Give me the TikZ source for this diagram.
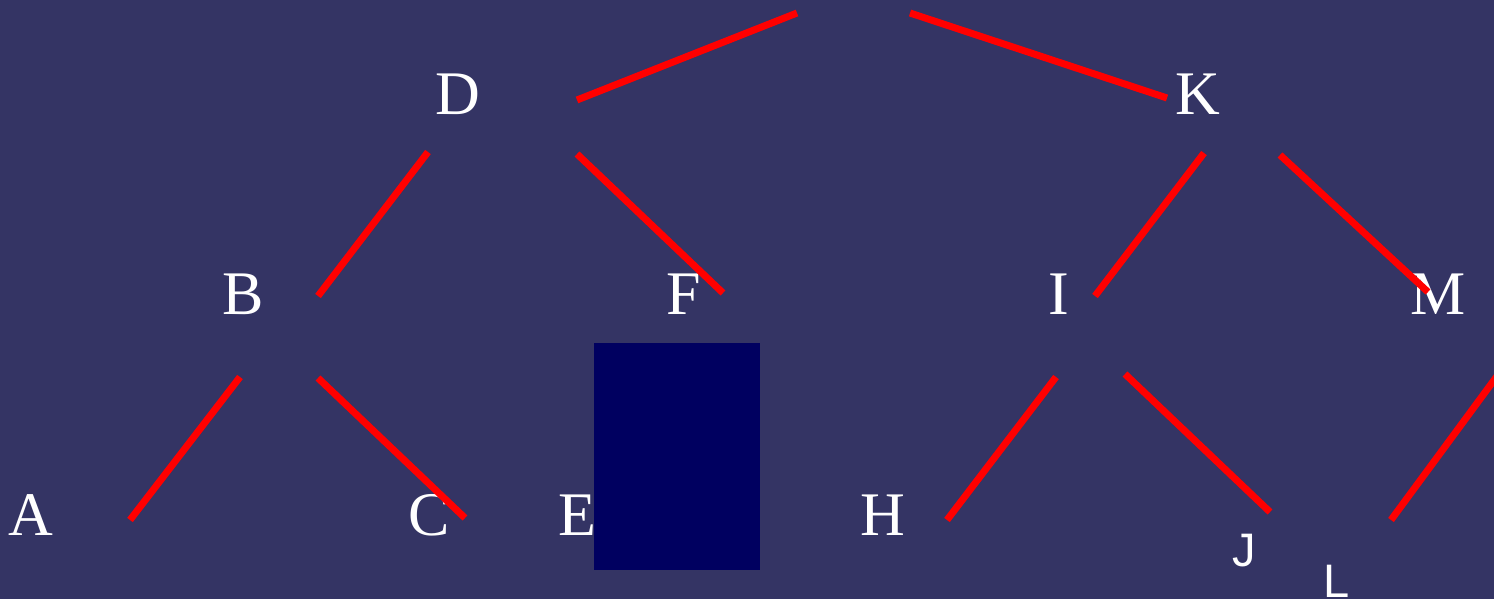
\documentclass[tikz,border=0pt]{standalone}
\usepackage{fontspec}
\setmainfont{Liberation Serif}
\newfontfamily\labelsans{Liberation Sans}
\definecolor{treebg}{RGB}{52, 52, 100}
\definecolor{boxnavy}{RGB}{0, 0, 96}
\definecolor{edgered}{RGB}{255, 0, 0}
\usetikzlibrary{arrows.meta, positioning}

\begin{document}
\begin{tikzpicture}[x=1pt, y=-1pt,
    letter/.style={text=white, inner sep=0pt, anchor=base, font=\fontsize{62}{70}\selectfont},
    sansletter/.style={letter, font=\labelsans\fontsize{47}{54}\selectfont},
    edge/.style={edgered, line width=7pt}]
    \useasboundingbox (0,0) rectangle (1494,599);
    \fill[treebg] (0,0) rectangle (1494,599);
    \clip (0,0) rectangle (1494,599);

    \node[letter] (D) at (458,115) {D};
    \node[letter] (K) at (1198,115) {K};
    \node[letter] (B) at (243,314) {B};
    \node[letter] (F) at (684,314) {F};
    \node[letter] (I) at (1059,314) {I};
    \node[letter] (M) at (1438,314) {M};
    \node[letter] (A) at (31,535) {A};
    \node[letter] (C) at (429,535) {C};
    \node[letter] (E) at (577,535) {E};
    \node[letter] (H) at (883,535) {H};
    \node[sansletter] (J) at (1244,566) {J};
    \node[sansletter] (L) at (1337,597) {L};

    \node[fill=boxnavy, inner sep=0pt, minimum width=166pt, minimum height=227pt,
          anchor=north west] (box) at (594,343) {};

    \coordinate (tl) at (797,13);   \coordinate (tr) at (910,13);
    \coordinate (d1) at (577,100);  \coordinate (k1) at (1167,98);
    \coordinate (d2) at (428,152);  \coordinate (b1) at (318,296);
    \coordinate (d3) at (577,154);  \coordinate (f1) at (723,293);
    \coordinate (k2) at (1204,153); \coordinate (i1) at (1095,296);
    \coordinate (k3) at (1280,155); \coordinate (m1) at (1428,292);
    \coordinate (b2) at (240,377);  \coordinate (a1) at (130,520);
    \coordinate (b3) at (318,378);  \coordinate (c1) at (465,518);
    \coordinate (i2) at (1056,377); \coordinate (h1) at (947,520);
    \coordinate (i3) at (1125,374); \coordinate (j1) at (1270,512);
    \coordinate (m2) at (1500,372); \coordinate (l1) at (1391,520);

    \draw[edge] (d1) -- (tl);
    \draw[edge] (tr) -- (k1);
    \draw[edge] (d2) -- (b1);
    \draw[edge] (d3) -- (f1);
    \draw[edge] (k2) -- (i1);
    \draw[edge] (k3) -- (m1);
    \draw[edge] (b2) -- (a1);
    \draw[edge] (b3) -- (c1);
    \draw[edge] (i2) -- (h1);
    \draw[edge] (i3) -- (j1);
    \draw[edge] (m2) -- (l1);
  \end{tikzpicture}
\end{document}
